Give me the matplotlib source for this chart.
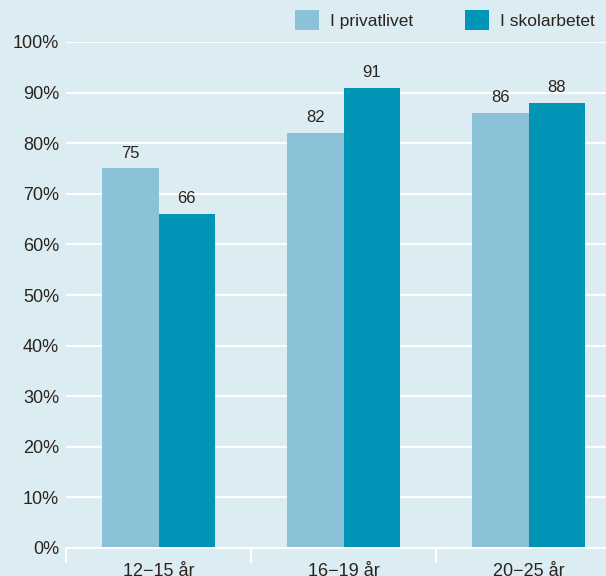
import numpy as np
import matplotlib.pyplot as plt

# data
categories = ["12\u221215 år", "16\u221219 år", "20\u221225 år"]
privat = [75, 82, 86]
skola = [66, 91, 88]
series_names = ["I privatlivet", "I skolarbetet"]
yticks = [0, 10, 20, 30, 40, 50, 60, 70, 80, 90, 100]

BG = "#dcecf3"
LIGHT = "#8bc2d7"
DARK = "#0094b6"
TXT = "#2b241c"

plt.rcParams["font.family"] = ["Liberation Sans", "DejaVu Sans"]

fig = plt.figure(figsize=(6.06, 5.76), dpi=100, facecolor=BG)
ax = fig.add_axes([66 / 606, 28 / 576, 555 / 606, 506 / 576], facecolor=BG)

x = np.arange(len(categories))
w = 0.303
b1 = ax.bar(x - w / 2, privat, w, color=LIGHT, label=series_names[0], zorder=3)
b2 = ax.bar(x + w / 2, skola, w, color=DARK, label=series_names[1], zorder=3)
ax.bar_label(b1, padding=5.5, fontsize=12, color=TXT)
ax.bar_label(b2, padding=5.5, fontsize=12, color=TXT)

ax.set_xlim(-0.5, 2.5)
ax.set_ylim(0, 100)
ax.set_yticks(yticks)
ax.set_yticklabels([f"{v}%" for v in yticks])
ax.yaxis.grid(True, color="white", linewidth=1.4, zorder=0)
ax.set_axisbelow(True)

ax.set_xticks(x)
ax.set_xticklabels(categories)
ax.set_xticks([-0.5, 0.5, 1.5, 2.5], minor=True)
ax.tick_params(axis="x", which="major", length=0, pad=11, labelsize=13, labelcolor=TXT)
ax.tick_params(axis="x", which="minor", length=11, width=1.4, color="white", direction="out")
ax.tick_params(axis="y", length=0, pad=5, labelsize=13, labelcolor=TXT)

for s in ["top", "right", "left"]:
    ax.spines[s].set_visible(False)
ax.spines["bottom"].set_color("white")
ax.spines["bottom"].set_linewidth(1.4)
ax.spines["bottom"].set_zorder(4)

ax.legend(ncol=2, loc="upper left", bbox_to_anchor=(295 / 606, 1 - 10 / 576),
          bbox_transform=fig.transFigure, frameon=False, fontsize=12.5,
          labelcolor=TXT, handlelength=1.38, handleheight=1.38,
          handletextpad=0.63, columnspacing=3.0, borderpad=0, borderaxespad=0)

fig.savefig("out.png", dpi=100, facecolor=BG)
